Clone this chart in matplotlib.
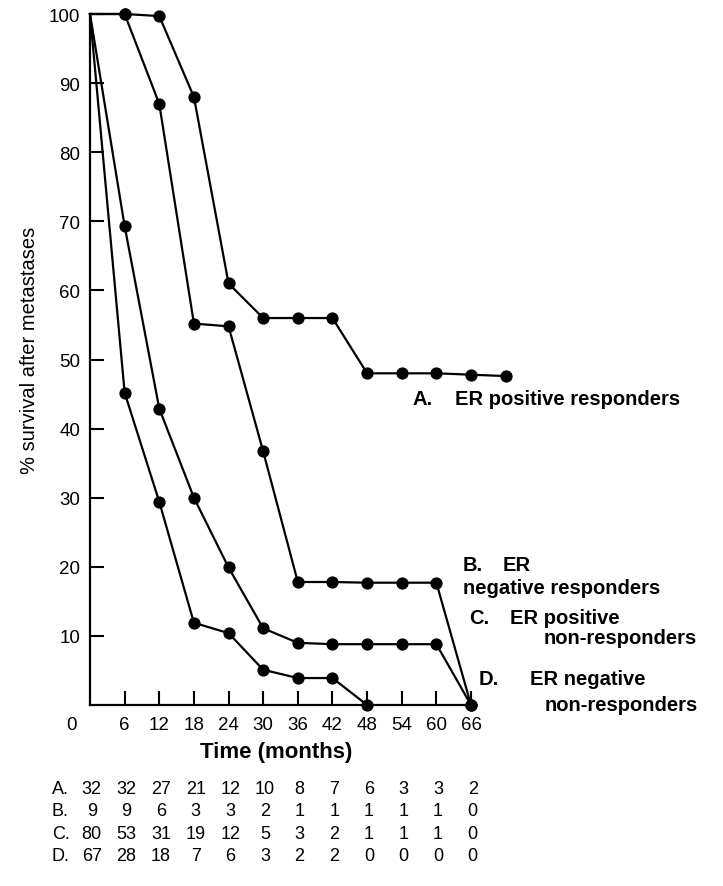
import matplotlib
matplotlib.use("Agg")
from matplotlib import pyplot as plt
from matplotlib.transforms import blended_transform_factory

plt.rcParams['font.family'] = ['Liberation Sans', 'DejaVu Sans']

# survival curves (% alive), months after metastases
months_a = [0, 6, 12, 18, 24, 30, 36, 42, 48, 54, 60, 66, 72]
surv_a = [100, 100, 99.7, 88, 61, 56, 56, 56, 48, 48, 48, 47.8, 47.6]
months_b = [0, 6, 12, 18, 24, 30, 36, 42, 48, 54, 60, 66]
surv_b = [100, 100, 87, 55.2, 54.8, 36.7, 17.8, 17.8, 17.7, 17.7, 17.7, 0]
months_c = [0, 6, 12, 18, 24, 30, 36, 42, 48, 54, 60, 66]
surv_c = [100, 69.3, 42.9, 30, 19.9, 11.1, 9, 8.8, 8.8, 8.8, 8.8, 0]
months_d = [0, 6, 12, 18, 24, 30, 36, 42, 48]
surv_d = [100, 45.2, 29.4, 11.9, 10.4, 5.1, 3.9, 3.9, 0]

# patients at risk at each 6-month point
table_months = [0, 6, 12, 18, 24, 30, 36, 42, 48, 54, 60, 66]
at_risk = {
    "A.": [32, 32, 27, 21, 12, 10, 8, 7, 6, 3, 3, 2],
    "B.": [9, 9, 6, 3, 3, 2, 1, 1, 1, 1, 1, 0],
    "C.": [80, 53, 31, 19, 12, 5, 3, 2, 1, 1, 1, 0],
    "D.": [67, 28, 18, 7, 6, 3, 2, 2, 0, 0, 0, 0],
}

fig = plt.figure(figsize=(7.23, 8.87), dpi=100)
ax = fig.add_axes([90/723, 1 - 706/887, 381/723, 691/887])

for mx, sy in [(months_a, surv_a), (months_b, surv_b),
               (months_c, surv_c), (months_d, surv_d)]:
    ax.plot(mx, sy, color='black', lw=1.6, clip_on=False, zorder=3)
    ax.plot(mx[1:], sy[1:], 'o', color='black', ms=7.8, clip_on=False, zorder=4)

ax.set_xlim(0, 66)
ax.set_ylim(0, 100)
for s in ['top', 'right']:
    ax.spines[s].set_visible(False)
ax.spines['left'].set_linewidth(1.6)
ax.spines['bottom'].set_linewidth(1.6)

ax.set_xticks(range(6, 67, 6))
ax.set_yticks(range(10, 101, 10))
ax.tick_params(axis='both', direction='in', length=10, width=1.5,
               labelsize=13.5, colors='black')
ax.tick_params(axis='x', pad=8)
ax.tick_params(axis='y', pad=7)
ax.annotate("0", (0, 0), xytext=(-13, -14), textcoords='offset points',
            ha='center', va='center', fontsize=13.5, annotation_clip=False)

fig.text(276/723, 1 - 753/887, "Time (months)", ha='center', va='center',
         fontsize=16, fontweight='bold')
fig.text(30/723, 1 - 350/887, "% survival after metastases", rotation=90,
         ha='center', va='center', fontsize=14.5)

# curve labels: letter and description placed separately
lab = dict(fontsize=14.5, fontweight='bold', ha='left', va='center',
           annotation_clip=False)
ax.annotate("A.", (55.95, 44.3), **lab)
ax.annotate("ER positive responders", (63.2, 44.3), **lab)
ax.annotate("B.", (64.6, 20.4), **lab)
ax.annotate("ER", (71.5, 20.4), **lab)
ax.annotate("negative responders", (64.6, 17.0), **lab)
ax.annotate("C.", (65.65, 12.7), **lab)
ax.annotate("ER positive", (72.8, 12.7), **lab)
ax.annotate("non-responders", (78.5, 9.8), **lab)
ax.annotate("D.", (67.4, 3.8), **lab)
ax.annotate("ER negative", (76.2, 3.8), **lab)
ax.annotate("non-responders", (78.8, 0.1), **lab)

# numbers at risk below the axis
tr = blended_transform_factory(ax.transData, fig.transFigure)
row_y = [790, 812, 835, 857]
for (name, counts), py in zip(at_risk.items(), row_y):
    fy = 1 - py/887
    fig.text(52/723, fy, name, ha='left', va='center', fontsize=13)
    for m, c in zip(table_months, counts):
        ax.text(m + 0.3, fy, str(c), transform=tr, ha='center', va='center',
                fontsize=13)

fig.savefig("out.png", dpi=100)
